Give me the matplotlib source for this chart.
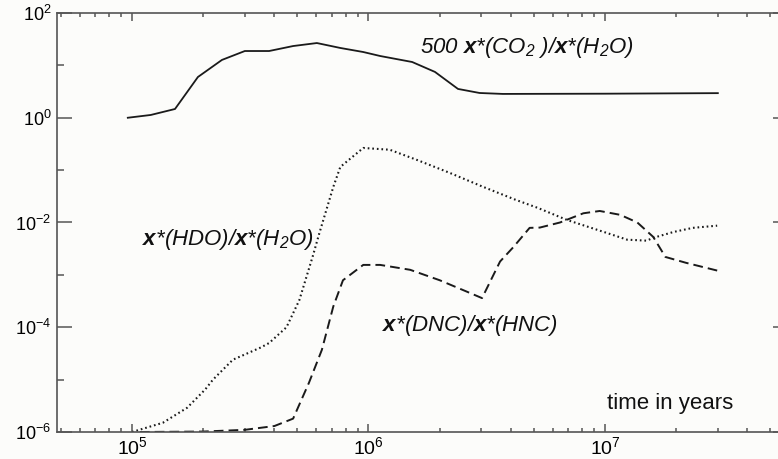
import numpy as np
import matplotlib
matplotlib.use("Agg")
import matplotlib.pyplot as plt

# font setup: Helvetica-like text, bold-italic x in the labels
plt.rcParams['font.family'] = ['Liberation Sans', 'DejaVu Sans']
plt.rcParams['mathtext.fontset'] = 'custom'
plt.rcParams['mathtext.rm'] = 'Liberation Sans:italic'
plt.rcParams['mathtext.it'] = 'Liberation Sans:italic'
plt.rcParams['mathtext.bf'] = 'Liberation Sans:italic:bold'

# data (time in years, ratios)
t_co2 = [9.6e4, 1.2e5, 1.52e5, 1.9e5, 2.4e5, 3.0e5, 3.8e5, 4.8e5, 6.05e5, 7.6e5,
         9.5e5, 1.12e6, 1.53e6, 1.91e6, 2.39e6, 2.95e6, 3.7e6, 1.0e7, 3.0e7]
co2 = [1.0, 1.13, 1.47, 6.0, 12.7, 18.8, 18.8, 23.4, 26.7, 21.5,
       18.0, 15.1, 11.6, 7.5, 3.55, 2.97, 2.85, 2.88, 2.95]

t_hdo = [1.0e5, 1.35e5, 1.71e5, 2.04e5, 2.2e5, 2.67e5, 3.5e5, 3.8e5, 4.5e5, 5.1e5,
         5.8e5, 6.2e5, 7.1e5, 7.6e5, 9.5e5, 1.23e6, 1.6e6, 2.2e6, 3.05e6, 4.2e6,
         5.2e6, 6.9e6, 1.02e7, 1.24e7, 1.5e7, 1.6e7, 1.95e7, 2.35e7, 2.98e7]
hdo = [1.0e-6, 1.5e-6, 2.9e-6, 6.5e-6, 1.0e-5, 2.4e-5, 4.1e-5, 5.0e-5, 1.0e-4, 3.3e-4,
       2.2e-3, 6.3e-3, 4.8e-2, 0.115, 0.265, 0.245, 0.157, 0.089, 0.048, 0.027,
       0.019, 0.0112, 0.0063, 0.0047, 0.0045, 0.0051, 0.0066, 0.0079, 0.0087]

t_dnc = [1.08e5, 2.0e5, 3.0e5, 4.0e5, 4.8e5, 5.6e5, 6.35e5, 7.1e5, 7.8e5, 9.5e5,
         1.12e6, 1.5e6, 2.0e6, 2.6e6, 3.02e6, 3.6e6, 4.1e6, 4.8e6, 5.3e6, 6.45e6,
         8.1e6, 9.5e6, 1.16e7, 1.37e7, 1.6e7, 1.8e7, 2.2e7, 3.0e7]
dnc = [1.0e-6, 1.02e-6, 1.1e-6, 1.3e-6, 1.8e-6, 8.7e-6, 3.7e-5, 2.5e-4, 7.9e-4, 1.55e-3,
       1.55e-3, 1.25e-3, 7.9e-4, 4.8e-4, 3.6e-4, 1.8e-3, 3.4e-3, 7.9e-3, 8.0e-3, 0.010,
       0.015, 0.0166, 0.014, 0.010, 0.0053, 0.0022, 0.0017, 0.0012]

yticks = [1e-6, 1e-4, 1e-2, 1e0, 1e2]
ytick_labels = [r'$\mathregular{10^{-6}}$', r'$\mathregular{10^{-4}}$',
                r'$\mathregular{10^{-2}}$', r'$\mathregular{10^{0}}$',
                r'$\mathregular{10^{2}}$']
xticks = [1e5, 1e6, 1e7]
xtick_labels = [r'$\mathregular{10^{5}}$', r'$\mathregular{10^{6}}$',
                r'$\mathregular{10^{7}}$']

fig = plt.figure(figsize=(7.78, 4.59), dpi=100, facecolor='#fcfcfa')
# axes run a little past the right edge (the original is cropped there)
ax = fig.add_axes([57 / 778, 27 / 459, 731 / 778, 419 / 459])
ax.set_facecolor('#fcfcfa')

ax.plot(t_co2, co2, color='#1a1a1a', lw=1.3)
ax.plot(t_hdo, hdo, color='#1a1a1a', lw=1.5, dashes=(0.8, 1.4))
ax.plot(t_dnc, dnc, color='#1a1a1a', lw=1.4, dashes=(5.0, 2.6))

ax.set_xscale('log')
ax.set_yscale('log')
ax.set_xlim(10 ** (5 - 75 / 236.5), 10 ** (7 + 183 / 236.5))
ax.set_ylim(1e-6, 1e2)

ax.set_xticks(xticks)
ax.set_xticklabels(xtick_labels, fontsize=14)
ax.set_yticks(yticks)
ax.set_yticklabels(ytick_labels, fontsize=13)
ax.set_yticks([1e-5, 1e-3, 1e-1, 1e1], minor=True)
ax.yaxis.set_minor_formatter(matplotlib.ticker.NullFormatter())

ax.tick_params(which='both', direction='in', top=True, right=True, color='#555555')
ax.tick_params(axis='x', which='major', length=6, width=1.1, pad=3)
ax.tick_params(axis='x', which='minor', length=3, width=1.1)
ax.tick_params(axis='y', which='major', length=10.5, width=1.1, pad=4)
ax.tick_params(axis='y', which='minor', length=5, width=1.1)
for side in ['left', 'bottom', 'top']:
    ax.spines[side].set_color('#555555')
    ax.spines[side].set_linewidth(1.2)
ax.spines['right'].set_visible(False)

lab = dict(fontsize=16, fontstyle='italic', va='center', ha='left', color='#111111')
ax.text(1.65e6, 22, r'$\mathregular{500\ }\mathbf{x}\mathregular{*(CO_2\ )/}\mathbf{x}\mathregular{*(H_2O)}$', **lab)
ax.text(1.1e5, 4.7e-3, r'$\mathbf{x}\mathregular{*(HDO)/}\mathbf{x}\mathregular{*(H_2O)}$', **lab)
ax.text(1.14e6, 1.1e-4, r'$\mathbf{x}\mathregular{*(DNC)/}\mathbf{x}\mathregular{*(HNC)}$', **lab)
ax.text(1.02e7, 3.5e-6, 'time in years', fontsize=16, va='center', ha='left',
        color='#111111')

fig.savefig('out.png', dpi=100, facecolor=fig.get_facecolor())
